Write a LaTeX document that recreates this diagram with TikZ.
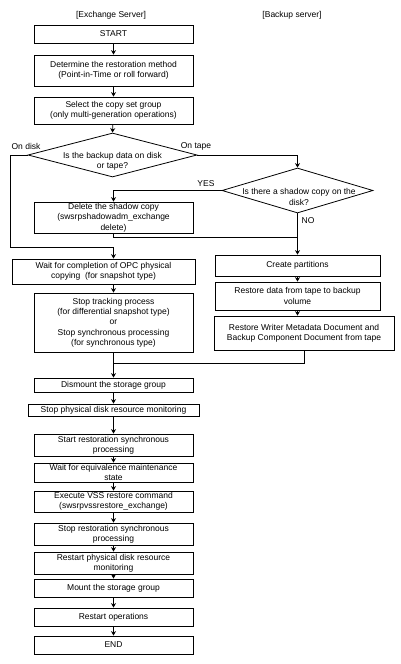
\documentclass[tikz,border=0pt]{standalone}
\usepackage{fontspec}
\setmainfont{Liberation Sans}
\usetikzlibrary{arrows.meta,shapes.geometric}

\tikzset{
  proc/.style={draw, minimum width=159pt, inner sep=0pt, align=center},
  decision/.style={draw, diamond, inner sep=0pt},
  txt/.style={inner sep=0pt, align=center}
}

\begin{document}
\begin{tikzpicture}[x=1pt, y=-1pt, >={Stealth[length=4.5pt,width=5pt]}, line width=0.8pt,
  font=\fontsize{8.5}{10.3}\selectfont]
\useasboundingbox (0,0) rectangle (401,664);

\node[txt] (hexch) at (111,15) {[Exchange Server]};
\node[txt] (hback) at (292,15) {[Backup server]};

% left column, top
\node[proc, minimum height=18pt] (start) at (113.5,34) {START};
\node[proc, minimum height=31pt] (method) at (113.5,70.5) {Determine the restoration method\\(Point-in-Time or roll forward)};
\node[proc, minimum height=27pt] (group) at (113.5,110.5) {Select the copy set group\\(only multi-generation operations)};
\node[decision, minimum width=169pt, minimum height=44pt] (where) at (112.5,155) {};
\node[txt] (wheretxt) at (112.5,161) {Is the backup data on disk\\or tape?};

\node[decision, minimum width=151pt, minimum height=45pt] (shadow) at (297.5,190.5) {};
\node[txt] (shadowtxt) at (299,197) {Is there a shadow copy on the\\disk?};

\node[proc, minimum height=31pt] (delete) at (113.5,217.5) {Delete the shadow copy\\(swsrpshadowadm\_exchange\\delete)};

\node[proc, minimum width=183pt, minimum height=25pt] (waitopc) at (103.5,271.5) {Wait for completion of OPC physical\\copying\ \ (for snapshot type)};
\node[proc, minimum height=59pt] (stoptrack) at (113.5,322.5) {Stop tracking process\\(for differential snapshot type)\\or\\Stop synchronous processing\\(for synchronous type)};

% right column
\node[proc, minimum width=165pt, minimum height=21pt] (parts) at (297.5,265.5) {Create partitions};
\node[proc, minimum width=165pt, minimum height=28pt] (fromtape) at (297.5,296) {Restore data from tape to backup\\volume};
\node[proc, minimum width=180pt, minimum height=34pt] (writer) at (304,333) {Restore Writer Metadata Document and\\Backup Component Document from tape};

% left column, bottom
\node[proc, minimum height=14pt] (dismount) at (113.5,385) {Dismount the storage group};
\node[proc, minimum width=171pt, minimum height=12pt] (stopmon) at (113.5,410) {Stop physical disk resource monitoring};
\node[proc, minimum height=22pt] (startsync) at (113.5,445) {Start restoration synchronous\\processing};
\node[proc, minimum height=19pt] (waiteq) at (113.5,472.5) {Wait for equivalence maintenance\\state};
\node[proc, minimum height=21pt] (vss) at (113.5,501.5) {Execute VSS restore command\\(swsrpvssrestore\_exchange)};
\node[proc, minimum height=22pt] (stopsync) at (113.5,534) {Stop restoration synchronous\\processing};
\node[proc, minimum height=22pt] (restartmon) at (113.5,563) {Restart physical disk resource\\monitoring};
\node[proc, minimum height=18pt] (mount) at (113.5,588) {Mount the storage group};
\node[proc, minimum height=18pt] (restart) at (113.5,617) {Restart operations};
\node[proc, minimum height=18pt] (end) at (113.5,645) {END};

\coordinate (diskbend) at (10,247);
\coordinate (deljoin) at (297.5,237);
\coordinate (mainjoin) at (113.5,363);

\draw[->] (start) -- (method);
\draw[->] (method) -- (group);
\draw[->] (group) -- (where.north);

\draw[->] (where.west) -| (diskbend) -| (stoptrack.north |- waitopc.north);
\node[txt] (ondisk) at (26,146) {On disk};
\draw[->] (where.east) -| (shadow.north);
\node[txt] (ontape) at (196,146) {On tape};

\draw[->] (shadow.west) -| (delete.north);
\node[txt] (yes) at (206,184) {YES};
\draw (delete.south) |- (deljoin);
\draw[->] (shadow.south) -- (parts.north);
\node[txt] (no) at (308,221) {NO};

\draw[->] (stoptrack.north |- waitopc.south) -- (stoptrack.north);
\draw[->] (parts) -- (fromtape);
\draw[->] (fromtape.south) -- (fromtape.south |- writer.north);
\draw (writer.south) |- (mainjoin);
\draw[->] (stoptrack.south) -- (dismount.north);

\draw[->] (dismount) -- (stopmon);
\draw[->] (stopmon) -- (startsync);
\draw[->] (startsync) -- (waiteq);
\draw[->] (waiteq) -- (vss);
\draw[->] (vss) -- (stopsync);
\draw[->] (stopsync) -- (restartmon);
\draw[->] (restartmon) -- (mount);
\draw[->] (mount) -- (restart);
\draw[->] (restart) -- (end);

\end{tikzpicture}
\end{document}
